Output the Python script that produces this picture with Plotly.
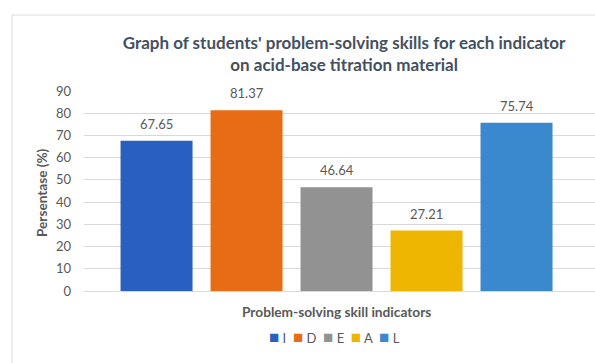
import plotly.graph_objects as go

categories = ["I", "D", "E", "A", "L"]
values = [67.65, 81.37, 46.64, 27.21, 75.74]
colors = ["#295FBE", "#E86C15", "#929292", "#EEB600", "#3A88CD"]
y_ticks = [0, 10, 20, 30, 40, 50, 60, 70, 80, 90]

title_text = "Graph of students' problem-solving skills for each indicator<br>on acid-base titration material"
x_title = "Problem-solving skill indicators"
y_title = "Persentase (%)"

FONT = "Lato"
TXT = "#595959"

fig = go.Figure()
for cat, val, col in zip(categories, values, colors):
    fig.add_trace(go.Bar(
        x=[cat], y=[val], name=cat, width=0.8,
        marker=dict(color=col, line=dict(width=0)),
        hoverinfo="x+y", showlegend=False,
    ))

for cat, val in zip(categories, values):
    fig.add_annotation(x=cat, y=val, text=f"{val:.2f}", showarrow=False,
                       xref="x", yref="y", yanchor="bottom", yshift=7,
                       font=dict(family=FONT, size=13, color=TXT))

fig.add_annotation(x=-0.0822, y=0.495, xref="paper", yref="paper", text=y_title,
                   textangle=-90, showarrow=False, xanchor="center", yanchor="middle",
                   font=dict(family=FONT, size=13.6, color=TXT, weight="bold"))
fig.add_annotation(x=0.495, y=-0.10, xref="paper", yref="paper", text=x_title,
                   showarrow=False, xanchor="center", yanchor="middle",
                   font=dict(family=FONT, size=13.7, color=TXT, weight="bold"))

# legend (compact, Excel-like): coloured squares followed by category letters
legend_parts = [
    f'<span style="color:{col};font-size:17px">■</span>&nbsp;{cat}'
    for cat, col in zip(categories, colors)
]
fig.add_annotation(x=0.49, y=-0.225, xref="paper", yref="paper",
                   text="&nbsp;&nbsp;".join(legend_parts),
                   showarrow=False, xanchor="center", yanchor="middle",
                   font=dict(family=FONT, size=13, color=TXT))

# chart-area frame (left and top edges visible)
fig.add_shape(type="line", xref="paper", yref="paper", x0=-0.1409, x1=-0.1409, y0=1.38, y1=-0.40,
              line=dict(color="#DDDDDD", width=1))
fig.add_shape(type="line", xref="paper", yref="paper", x0=-0.1409, x1=1.05, y0=1.38, y1=1.38,
              line=dict(color="#DDDDDD", width=1))

fig.update_layout(
    width=595, height=363,
    margin=dict(l=84, r=0, t=91, b=72),
    paper_bgcolor="white", plot_bgcolor="white",
    barmode="overlay",
    title=dict(text=title_text, x=0.509, xref="paper", xanchor="center",
               y=1 - 49 / 363, yanchor="middle",
               font=dict(family=FONT, size=17, color="#44505F", weight="bold")),
    xaxis=dict(type="category", categoryorder="array", categoryarray=categories,
               range=[-0.806, 4.872], showticklabels=False, showgrid=False,
               showline=False, zeroline=False, ticks=""),
    yaxis=dict(range=[0, 90], tickvals=y_ticks, showgrid=True, gridcolor="#D9D9D9",
               gridwidth=1, zeroline=True, zerolinecolor="#D9D9D9", zerolinewidth=1,
               showline=False, ticks="", ticklabelstandoff=12,
               tickfont=dict(family=FONT, size=13, color=TXT)),
    showlegend=False,
    font=dict(family=FONT, color=TXT),
)

fig.write_html("out.html")
